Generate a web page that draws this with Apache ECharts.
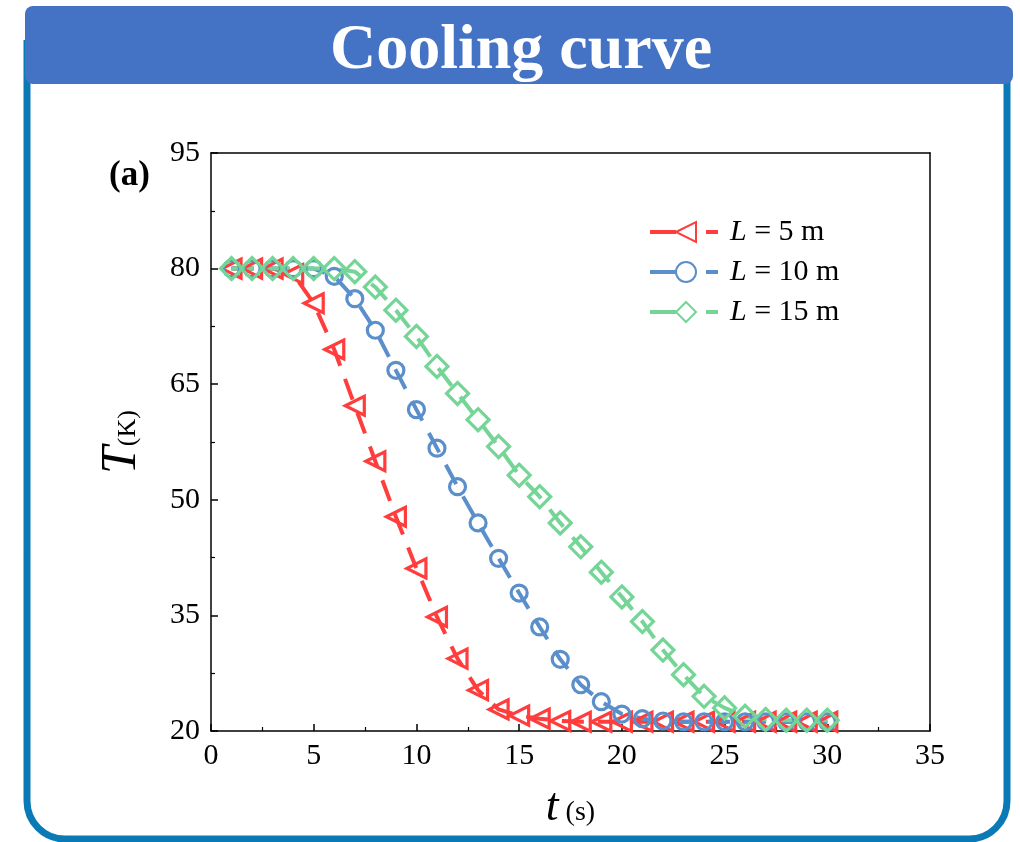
<!DOCTYPE html>
<html>
<head>
<meta charset="utf-8">
<title>Cooling curve</title>
<script src="https://cdn.jsdelivr.net/npm/echarts@6/dist/echarts.min.js"></script>
<style>
  html, body { margin: 0; padding: 0; background: #fff; }
  #chart { width: 1020px; height: 842px; }
</style>
</head>
<body>
<div id="chart"></div>
<script>
// Time axis (s) and temperature readings (K) for three tube lengths
const timeS = [1, 2, 3, 4, 5, 6, 7, 8, 9, 10, 11, 12, 13, 14, 15, 16, 17, 18, 19, 20,
               21, 22, 23, 24, 25, 26, 27, 28, 29, 30];
const tempL5 = [80, 80, 80, 79.3, 75.5, 69.5, 62.2, 55, 47.8, 41.1, 34.8, 29.4, 25.3, 22.8, 22.0,
                21.6, 21.3, 21.2, 21.2, 21.2, 21.2, 21.2, 21.2, 21.2, 21.2, 21.2, 21.2, 21.2, 21.2, 21.2];
const tempL10 = [80, 80, 80, 80, 80, 79, 76.1, 72, 66.8, 61.7, 56.7, 51.7, 47, 42.4, 37.9,
                 33.5, 29.3, 26, 23.8, 22.2, 21.6, 21.3, 21.2, 21.2, 21.2, 21.2, 21.2, 21.2, 21.2, 21.2];
const tempL15 = [80, 80, 80, 80, 80, 80, 79.6, 77.6, 74.6, 71.2, 67.3, 63.8, 60.4, 56.9, 53.2,
                 50.4, 47, 43.9, 40.6, 37.4, 34.2, 30.5, 27.3, 24.5, 23, 21.9, 21.5, 21.4, 21.4, 21.4];
const seriesNames = ['L = 5 m', 'L = 10 m', 'L = 15 m'];
const xTicks = [0, 5, 10, 15, 20, 25, 30, 35];
const yTicks = [20, 35, 50, 65, 80, 95];

const SERIF = "'Liberation Serif', 'Times New Roman', serif";
const RED = '#ff3d3d';
const BLUE = '#5b8fcb';
const GREEN = '#74d596';

function pairs(ys) {
  return timeS.map((t, i) => [t, ys[i]]);
}

function lineSeries(name, ys, color, symbol, size, rotate) {
  return {
    name: name,
    type: 'line',
    data: pairs(ys),
    symbol: symbol,
    symbolSize: size,
    symbolRotate: rotate,
    showAllSymbol: true,
    color: color,
    z: 5,
    lineStyle: { color: color, width: 4, type: [22, 14] },
    itemStyle: { color: 'transparent', borderColor: color, borderWidth: 3.2 },
    emphasis: { disabled: true },
    animation: false
  };
}

// Plain frame axes for the top and right edges of the plot box
function frameAxis(pos) {
  return {
    type: 'value', position: pos, show: true,
    min: 0, max: 1,
    axisLine: { show: true, onZero: false, lineStyle: { color: '#000', width: 1.5 } },
    axisTick: { show: false }, axisLabel: { show: false }, splitLine: { show: false }
  };
}

const labelFont = { fontFamily: SERIF, fontSize: 30, color: '#000' };
const tickStyle = {
  axisLine: { onZero: false, lineStyle: { color: '#000', width: 1.5 } },
  axisTick: { inside: true, length: 7, lineStyle: { color: '#000', width: 1.5 } },
  minorTick: { show: true, splitNumber: 2, length: 4, lineStyle: { color: '#000', width: 1.2 } },
  splitLine: { show: false }
};

const chart = echarts.init(document.getElementById('chart'), null, { renderer: 'canvas' });

chart.setOption({
  backgroundColor: '#fff',
  animation: false,
  graphic: [
    {
      type: 'rect', z: -10,
      shape: { x: 27, y: 40, width: 980, height: 799, r: [0, 0, 38, 38] },
      style: { fill: '#fff', stroke: '#0a7ab7', lineWidth: 7 }
    },
    {
      type: 'rect', z: -9,
      shape: { x: 25, y: 6, width: 988, height: 78, r: 8 },
      style: { fill: '#4472c4' }
    },
    {
      type: 'text', z: -8, x: 521, y: 51,
      style: {
        text: 'Cooling curve', fill: '#fff', align: 'center', verticalAlign: 'middle',
        font: 'bold 64px ' + SERIF
      }
    },
    {
      type: 'text', z: 2, x: 109, y: 176,
      style: {
        text: '(a)', fill: '#000', align: 'left', verticalAlign: 'middle',
        font: 'bold 35px ' + SERIF
      }
    }
  ],
  grid: { left: 211, top: 153, width: 719, height: 578 },
  legend: {
    orient: 'vertical',
    left: 643, top: 212,
    itemWidth: 72, itemHeight: 25, itemGap: 10,
    data: seriesNames.map(n => ({ name: n, itemStyle: { color: '#fff' } })),
    lineStyle: { type: [26, 30, 12, 10], width: 4 },
    formatter: n => n.replace('L', '{i|L}'),
    textStyle: {
      fontFamily: SERIF, fontSize: 30, color: '#000', padding: [0, 0, 0, 3],
      rich: { i: { fontFamily: SERIF, fontStyle: 'italic', fontSize: 30, color: '#000' } }
    },
    selectedMode: false
  },
  xAxis: [
    Object.assign({
      type: 'value', position: 'bottom',
      min: xTicks[0], max: xTicks[xTicks.length - 1], interval: xTicks[1] - xTicks[0],
      axisLabel: Object.assign({ margin: 10 }, labelFont),
      name: '{i|t}{s| (s)}',
      nameLocation: 'middle',
      nameGap: 54,
      nameTextStyle: {
        rich: {
          i: { fontFamily: SERIF, fontStyle: 'italic', fontSize: 46, color: '#000' },
          s: { fontFamily: SERIF, fontSize: 28, color: '#000', padding: [10, 0, 0, 0] }
        }
      }
    }, tickStyle),
    frameAxis('top')
  ],
  yAxis: [
    Object.assign({
      type: 'value', position: 'left',
      min: yTicks[0], max: yTicks[yTicks.length - 1], interval: yTicks[1] - yTicks[0],
      axisLabel: Object.assign({ margin: 11 }, labelFont),
      name: '{i|T}{s|(K)}',
      nameLocation: 'middle',
      nameRotate: 90,
      nameGap: 64,
      nameTextStyle: {
        rich: {
          i: { fontFamily: SERIF, fontStyle: 'italic', fontSize: 50, color: '#000' },
          s: { fontFamily: SERIF, fontSize: 26, color: '#000', padding: [12, 0, 0, 0] }
        }
      }
    }, tickStyle),
    frameAxis('right')
  ],
  series: [
    lineSeries(seriesNames[0], tempL5, RED, 'triangle', 19, 90),
    lineSeries(seriesNames[1], tempL10, BLUE, 'circle', 16, 0),
    lineSeries(seriesNames[2], tempL15, GREEN, 'diamond', 22, 0)
  ]
});
</script>
</body>
</html>
